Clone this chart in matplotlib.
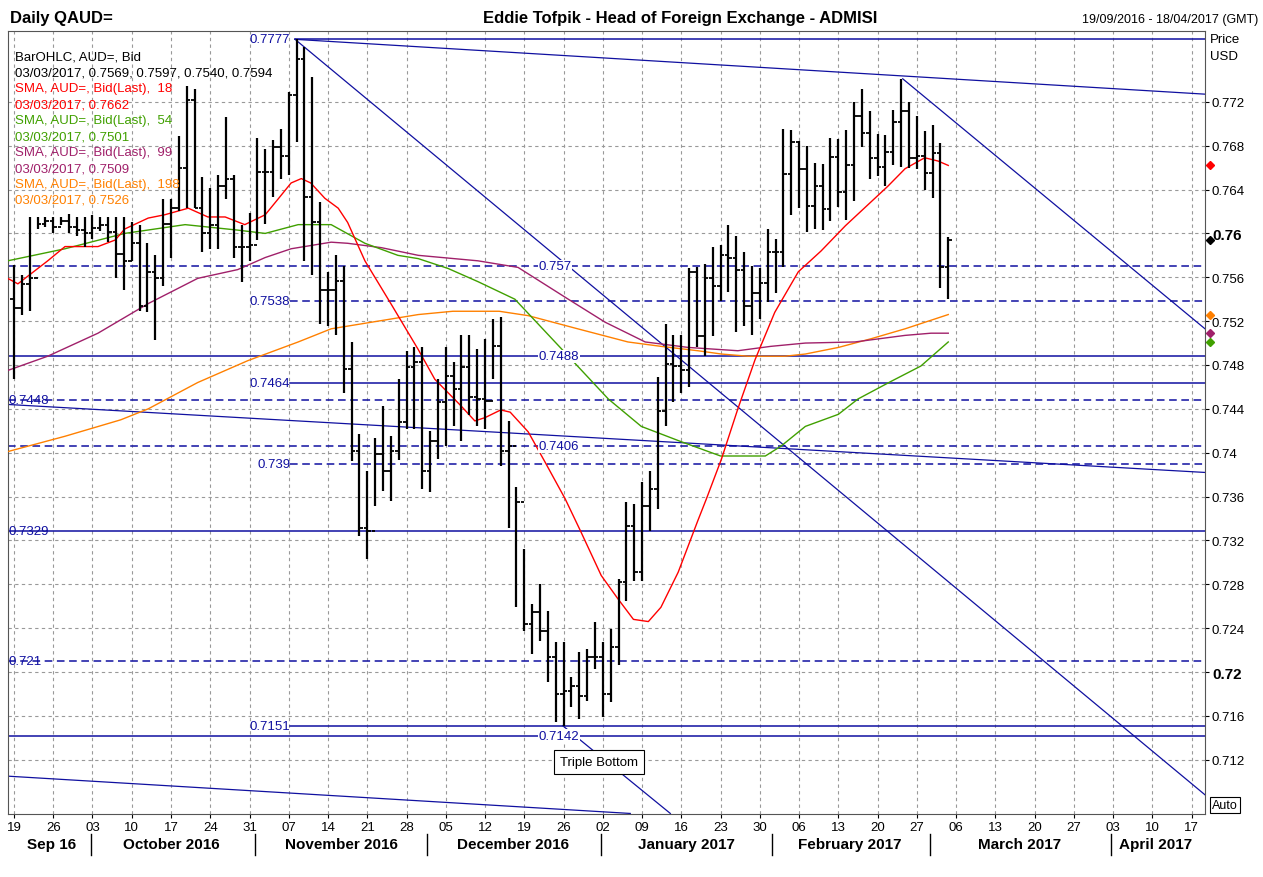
import numpy as np
import matplotlib
matplotlib.use("Agg")
import matplotlib.pyplot as plt
import matplotlib.transforms as mtransforms

plt.rcParams['font.family'] = ['Liberation Sans', 'DejaVu Sans']

# ---------------- data ----------------
highs = [.7571,.7562,.7615,.7615,.7615,.7615,.7615,.7618,.7615,.7615,.7617,.7615,.7615,.7615,.7615,.7610,.7608,.7591,.7580,.7631,
         .7631,.7689,.7734,.7732,.7651,.7641,.7653,.7706,.7653,.7608,.7619,.7687,.7677,.7685,.7695,.7729,.7777,.7770,.7743,.7629,
         .7565,.7580,.7570,.7501,.7417,.7383,.7413,.7443,.7415,.7467,.7493,.7496,.7496,.7420,.7467,.7496,.7483,.7507,.7507,.7495,
         .7504,.7522,.7524,.7429,.7369,.7312,.7262,.7280,.7256,.7227,.7227,.7195,.7218,.7221,.7246,.7227,.7239,.7285,.7355,.7353,
         .7373,.7383,.7469,.7517,.7507,.7507,.7568,.7569,.7572,.7588,.7589,.7608,.7598,.7583,.7570,.7568,.7604,.7595,.7695,.7694,
         .7684,.7680,.7664,.7663,.7687,.7686,.7694,.7720,.7732,.7712,.7691,.7690,.7713,.7741,.7720,.7707,.7693,.7699,.7682,.7597]
lows = [.7467,.7526,.7529,.7604,.7606,.7600,.7608,.7600,.7598,.7588,.7595,.7602,.7592,.7559,.7548,.7575,.7529,.7528,.7503,.7552,
        .7578,.7620,.7623,.7623,.7583,.7586,.7586,.7631,.7578,.7556,.7575,.7594,.7609,.7633,.7650,.7653,.7683,.7575,.7562,.7517,
        .7516,.7507,.7454,.7392,.7324,.7303,.7351,.7365,.7356,.7393,.7422,.7422,.7367,.7364,.7394,.7406,.7424,.7411,.7434,.7424,
        .7422,.7467,.7388,.7331,.7259,.7237,.7216,.7228,.7191,.7154,.7151,.7168,.7157,.7174,.7203,.7159,.7173,.7206,.7265,.7283,
        .7283,.7329,.7349,.7424,.7446,.7454,.7460,.7496,.7488,.7506,.7538,.7547,.7510,.7516,.7507,.7522,.7537,.7546,.7569,.7617,
        .7623,.7601,.7604,.7603,.7611,.7624,.7612,.7630,.7679,.7650,.7652,.7643,.7662,.7661,.7660,.7659,.7640,.7632,.7550,.7540]
closes = [.7532,.7554,.7559,.7609,.7611,.7606,.7611,.7606,.7603,.7600,.7605,.7608,.7601,.7581,.7575,.7591,.7534,.7565,.7559,.7609,
          .7623,.7660,.7722,.7623,.7600,.7608,.7643,.7650,.7588,.7588,.7589,.7656,.7656,.7679,.7671,.7726,.7759,.7633,.7610,.7548,
          .7548,.7557,.7476,.7402,.7331,.7329,.7399,.7383,.7402,.7428,.7478,.7483,.7383,.7411,.7446,.7470,.7458,.7478,.7451,.7449,
          .7447,.7497,.7402,.7406,.7355,.7244,.7255,.7237,.7214,.7180,.7183,.7187,.7178,.7214,.7214,.7180,.7223,.7282,.7333,.7291,
          .7351,.7367,.7438,.7481,.7479,.7475,.7565,.7506,.7559,.7552,.7580,.7578,.7567,.7534,.7546,.7555,.7583,.7583,.7654,.7683,
          .7659,.7625,.7643,.7622,.7670,.7638,.7662,.7707,.7692,.7669,.7661,.7674,.7702,.7712,.7669,.7671,.7655,.7673,.7569,.7594]
first_open = 0.7540
last_open = 0.7569

sma18_x = [-0.8,0.5,4.3,6.5,10.7,12.9,14.1,17.1,19.2,22.2,24.7,26.9,29.4,32,33.6,35.3,36.6,37.8,39.6,41.3,42.5,44.7,48,51.5,53.6,
           56.9,58.7,60,62,63.2,65.5,67.6,70.2,72.2,74.8,76.9,78.9,80.8,82.4,84.6,87.1,88.2,90.1,92.2,94.4,96.9,99.9,102.8,105.9,
           109.2,111.3,113.5,116,117.7,119]
sma18_y = [.7559,.7554,.7575,.7588,.7588,.7594,.7604,.7614,.7617,.7623,.7615,.7615,.7608,.7617,.7631,.7646,.7650,.7646,.7632,.7623,
           .7610,.7575,.7536,.7494,.7467,.7443,.7429,.7432,.7439,.7437,.7419,.7392,.7358,.7328,.7288,.7267,.7248,.7246,.7259,.7291,
           .7338,.7358,.7394,.7440,.7485,.7528,.7565,.7584,.7607,.7629,.7643,.7659,.7669,.7666,.7662]
sma54_x = [-0.8,6.5,14.1,21.8,28.5,32,36.2,40.4,44.7,48.9,51.5,55.3,59.1,63.8,69.7,75.7,79.9,85,90,95.7,97.7,100.8,105,107.5,111.7,115.5,119]
sma54_y = [.7575,.7586,.7600,.7608,.7603,.7600,.7608,.7608,.7591,.7580,.7577,.7568,.7556,.7540,.7495,.7449,.7424,.7410,.7397,.7397,
           .7406,.7424,.7435,.7449,.7465,.7479,.7501]
sma99_x = [-0.8,4.3,10.7,17.1,23.4,28.5,32,35.3,40.4,42.5,46.8,51.5,59.1,64.2,70.6,75.3,80.4,85.9,92.2,96.4,100.8,107.1,113.5,116.8,119]
sma99_y = [.7475,.7488,.7509,.7536,.7559,.7567,.7578,.7586,.7592,.7591,.7587,.7580,.7575,.7569,.7540,.7519,.7501,.7496,.7493,.7497,
           .7500,.7501,.7507,.7509,.7509]
sma198_x = [-0.8,6.5,13.6,17.1,23.4,29.8,36.2,40.4,51.5,55.9,61.8,65.5,71.8,78.2,82.4,87.1,90.1,93.5,98.2,100.8,105,109.2,113.5,119]
sma198_y = [.7401,.7415,.7430,.7440,.7464,.7484,.7501,.7513,.7526,.7529,.7529,.7525,.7513,.7501,.7497,.7493,.7490,.7488,.7488,.7490,
            .7496,.7504,.7513,.7526]

day_labels = ['19','26','03','10','17','24','31','07','14','21','28','05','12','19','26','02','09','16','23','30',
              '06','13','20','27','06','13','20','27','03','10','17']
month_labels = ['Sep 16','October 2016','November 2016','December 2016','January 2017','February 2017','March 2017','April 2017']
month_centers = [4.8,20,41.7,63.6,85.6,106.5,128.1,145.4]
month_seps = [9.8,30.7,52.6,74.8,96.6,116.7,139.7]

# horizontal levels: (value, style, start index, label, label index, label align)
levels = [
    (0.7777, '-', 35.8, '0.7777', 35.2, 'right'),
    (0.7570, '--', None, '0.757', 66.8, 'left'),
    (0.7538, '--', 35.2, '0.7538', 35.2, 'right'),
    (0.7488, '-', None, '0.7488', 66.8, 'left'),
    (0.7464, '-', 35.2, '0.7464', 35.2, 'right'),
    (0.7448, '--', None, '0.7448', -0.7, 'left'),
    (0.7406, '--', None, '0.7406', 66.8, 'left'),
    (0.7390, '--', 35.2, '0.739', 35.2, 'right'),
    (0.7329, '-', None, '0.7329', -0.7, 'left'),
    (0.7210, '--', None, '0.721', -0.7, 'left'),
    (0.7151, '-', 35.2, '0.7151', 35.2, 'right'),
    (0.7142, '-', None, '0.7142', 66.8, 'left'),
]
trend_lines = [
    ([35.8, 151.7], [0.7777, 0.7727]),
    ([35.8, 151.7], [0.7777, 0.7088]),
    ([113.2, 151.7], [0.7741, 0.7513]),
    ([-0.76, 151.7], [0.7444, 0.7382]),
    ([-0.76, 78.5], [0.7105, 0.7071]),
    ([69.9, 83.6], [0.7151, 0.7071]),
]

XMIN, XMAX = -0.76, 151.7
YMIN, YMAX = 0.70705, 0.77846
NAVY = '#1010a0'

fig = plt.figure(figsize=(12.63, 8.78), dpi=100)
ax = fig.add_axes([8/1263, 1-815/878, 1197/1263, 783/878])
ax.set_xlim(XMIN, XMAX)
ax.set_ylim(YMIN, YMAX)

yt = np.round(np.arange(0.712, 0.7725, 0.004), 3)
ax.set_yticks(yt)
ax.yaxis.tick_right()
ax.set_yticklabels([('%g' % v) for v in yt], fontsize=9.5)
for lab, v in zip(ax.get_yticklabels(), yt):
    if abs(v-0.76) < 1e-6 or abs(v-0.72) < 1e-6:
        lab.set_fontweight('bold'); lab.set_fontsize(11)
xt = np.arange(0, 151, 5)
ax.set_xticks(xt)
ax.set_xticklabels(day_labels, fontsize=9.5)
ax.tick_params(axis='both', length=3, pad=2)
ax.grid(True, color='#999999', linestyle=(0, (3, 3)), linewidth=0.8)
ax.set_axisbelow(True)
for s in ax.spines.values():
    s.set_color('#555555')

# levels
for v, ls, start, lab, lx, ha in levels:
    x0 = XMIN if start is None else start
    ax.plot([x0, XMAX], [v, v], color=NAVY, ls=ls, lw=1.1, zorder=2,
            dashes=(5, 3) if ls == '--' else (None, None))
    kw = {}
    if lx > 60:
        kw['bbox'] = dict(facecolor='white', edgecolor='none', pad=0.5)
    ax.text(lx, v, lab, color=NAVY, fontsize=9.5, ha=ha, va='center', zorder=4, **kw)

for xs, ys in trend_lines:
    ax.plot(xs, ys, color=NAVY, lw=0.9, zorder=2)

# SMAs
ax.plot(sma198_x, sma198_y, color='#ff8000', lw=1, zorder=3)
ax.plot(sma99_x, sma99_y, color='#a0206a', lw=1, zorder=3)
ax.plot(sma54_x, sma54_y, color='#40a000', lw=1, zorder=3)
ax.plot(sma18_x, sma18_y, color='#ff0000', lw=1, zorder=3)

# OHLC bars
n = len(closes)
xs = np.arange(n)
opens = [first_open] + closes[:-1]
opens[-1] = last_open
ax.vlines(xs, lows, highs, color='black', lw=1.6, zorder=5)
ax.hlines(opens, xs-0.45, xs, color='black', lw=1.3, zorder=5)
ax.hlines(closes, xs, xs+0.45, color='black', lw=1.3, zorder=5)

# right-edge markers
for val, col in [(closes[-1], 'black'), (sma18_y[-1], 'red'), (sma198_y[-1], '#ff8000'),
                 (sma99_y[-1], '#a0206a'), (sma54_y[-1], '#40a000')]:
    ax.plot([XMAX+0.6], [val], marker='D', ms=4.5, color=col, clip_on=False, zorder=6)

# Triple bottom annotation
ax.text(74.5, 0.7118, 'Triple Bottom', fontsize=9.5, ha='center', va='center', zorder=6,
        bbox=dict(facecolor='white', edgecolor='black', boxstyle='square,pad=0.45', lw=0.8))

# legend text
leg = [('BarOHLC, AUD=, Bid', 'black'), ('03/03/2017, 0.7569, 0.7597, 0.7540, 0.7594', 'black'),
       ('SMA, AUD=, Bid(Last),  18', '#ff0000'), ('03/03/2017, 0.7662', '#ff0000'),
       ('SMA, AUD=, Bid(Last),  54', '#40a000'), ('03/03/2017, 0.7501', '#40a000'),
       ('SMA, AUD=, Bid(Last),  99', '#a0206a'), ('03/03/2017, 0.7509', '#a0206a'),
       ('SMA, AUD=, Bid(Last),  198', '#ff8000'), ('03/03/2017, 0.7526', '#ff8000')]
for k, (t, c) in enumerate(leg):
    fig.text(15/1263, 1-(57+16*k)/878, t, color=c, fontsize=9.5, va='center', ha='left')

# month labels
trans = mtransforms.blended_transform_factory(ax.transData, ax.transAxes)
for c, m in zip(month_centers, month_labels):
    ax.text(c, -0.038, m, transform=trans, ha='center', va='center', fontsize=11,
            fontweight='bold', family=['Liberation Sans Narrow', 'Liberation Sans'])
for s in month_seps:
    ax.plot([s, s], [-0.026, -0.052], transform=trans, color='black', lw=1, clip_on=False)

# titles
fig.text(10/1263, 1-18/878, 'Daily QAUD=', fontsize=12, fontweight='bold', va='center')
fig.text(680/1263, 1-18/878, 'Eddie Tofpik - Head of Foreign Exchange - ADMISI', fontsize=12,
         fontweight='bold', va='center', ha='center')
fig.text(1258/1263, 1-20/878, '19/09/2016 - 18/04/2017 (GMT)', fontsize=9, va='center', ha='right')
fig.text(1210/1263, 1-40/878, 'Price', fontsize=9.5, va='center', ha='left')
fig.text(1210/1263, 1-57/878, 'USD', fontsize=9.5, va='center', ha='left')
fig.text(1212/1263, 1-806/878, 'Auto', fontsize=9, va='center', ha='left',
         bbox=dict(facecolor='white', edgecolor='black', pad=1.5, lw=0.8))

fig.savefig('out.png', dpi=100)
